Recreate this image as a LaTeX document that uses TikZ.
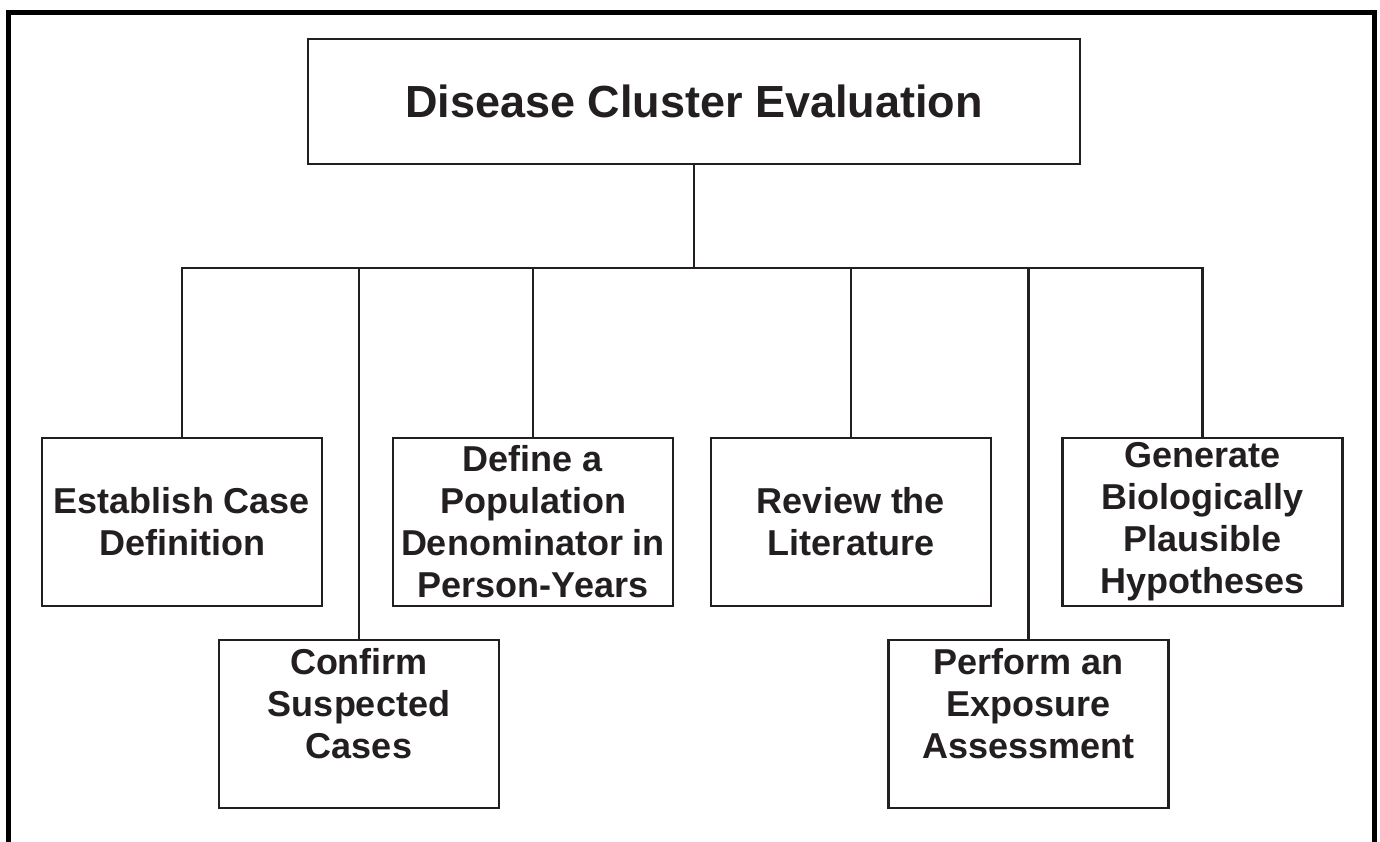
\documentclass[tikz,border=0pt]{standalone}
\usepackage{fontspec}
\setmainfont{Liberation Sans}
\definecolor{ink}{RGB}{35,31,32}
\tikzset{
  stepbox/.style={draw=ink, line width=1.3pt, text=ink, align=center,
    font=\bfseries\fontsize{18}{21}\selectfont,
    minimum width=140pt, minimum height=84pt, inner sep=0pt},
  link/.style={draw=ink, line width=1.3pt}
}
\begin{document}
\begin{tikzpicture}[x=0.5pt, y=-0.5pt]
    \useasboundingbox (0,0) rectangle (1380,841);

    \def\yt{522};
    \def\yl{724};
    \def\ybus{268};

% open frame round the chart
    \draw[black, line width=2.7pt] (8.5,845) -- (8.5,12.5) -- (1374.5,12.5) -- (1374.5,845);

    \node[stepbox, minimum width=386pt, minimum height=62.5pt,
      font=\bfseries\fontsize{22.5}{26}\selectfont] (title) at (694,101.5) {Disease Cluster Evaluation};

% upper row
    \node[stepbox] (casedef) at (182,\yt) {Establish Case\\Definition};
    \node[stepbox] (denom) at (533,\yt) {Define a\\Population\\Denominator in\\Person-Years};
    \node[stepbox] (review) at (851,\yt) {Review the\\Literature};
    \node[stepbox] (hypo) at (1202.5,\yt) {Generate\\Biologically\\Plausible\\Hypotheses};

% lower row
    \node[stepbox] (confirm) at (359,\yl) {Confirm\\Suspected\\Cases\\\mbox{}};
    \node[stepbox] (exposure) at (1028.5,\yl) {Perform an\\Exposure\\Assessment\\\mbox{}};

% tree lines
    \coordinate (hub) at (title.south |- 0,\ybus);
    \draw[link] (title.south) -- (hub);
    \foreach \n in {casedef, confirm, denom, review, exposure, hypo}
        \draw[link] (\n.north) |- (hub);

\end{tikzpicture}
\end{document}
